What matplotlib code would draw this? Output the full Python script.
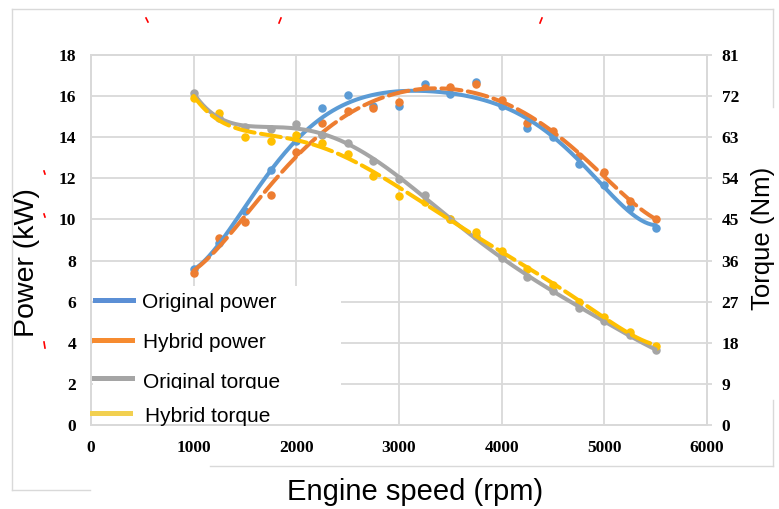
import numpy as np
import matplotlib
matplotlib.use("Agg")
import matplotlib.pyplot as plt
from matplotlib.lines import Line2D
from matplotlib.patches import Rectangle
from matplotlib.transforms import Bbox

# data -----------------------------------------------------------------------
rpm = [1000, 1250, 1500, 1750, 2000, 2250, 2500, 2750, 3000, 3250,
       3500, 3750, 4000, 4250, 4500, 4750, 5000, 5250, 5500]
orig_power = [7.6, 8.85, 10.4, 12.4, 13.8, 15.4, 16.05, 15.5, 15.5, 16.6,
              16.1, 16.7, 15.5, 14.45, 14.0, 12.7, 11.7, 10.55, 9.6]
hyb_power = [7.4, 9.1, 9.9, 11.2, 13.3, 14.7, 15.3, 15.4, 15.7, 16.4,
             16.45, 16.6, 15.8, 14.7, 14.3, 13.1, 12.3, 10.9, 10.0]
orig_torque = [72.7, 67.2, 65.3, 64.9, 65.9, 63.5, 61.7, 57.8, 53.8, 50.3,
               45.1, 41.3, 36.6, 32.4, 29.3, 25.7, 22.8, 19.7, 16.4]
hyb_torque = [71.6, 68.3, 63.0, 62.2, 63.4, 61.8, 59.3, 54.5, 50.1, 48.9,
              45.2, 42.3, 38.0, 34.2, 30.6, 27.0, 23.6, 20.4, 17.3]

x_ticks = [0, 1000, 2000, 3000, 4000, 5000, 6000]
power_ticks = [0, 2, 4, 6, 8, 10, 12, 14, 16, 18]
torque_ticks = [0, 9, 18, 27, 36, 45, 54, 63, 72, 81]
labels = ["Original power", "Hybrid power", "Original torque", "Hybrid torque"]

BLUE = "#5B9BD5"
ORANGE = "#ED7D31"
GRAY = "#A5A5A5"
YELLOW = "#FFC000"
GRID = "#D9D9D9"
W, H = 779, 509


def trend(x, y, deg):
    # polynomial trendline like the spreadsheet one
    p = np.polynomial.Polynomial.fit(x, y, deg)
    xs = np.linspace(min(x), max(x), 300)
    return xs, p(xs)


def px(x0, y0, x1, y1, **kw):
    # a line given in pixel coordinates of the picture
    fig.add_artist(Line2D([x0 / W, x1 / W], [1 - y0 / H, 1 - y1 / H],
                          transform=fig.transFigure, **kw))


fig = plt.figure(figsize=(7.79, 5.09), dpi=100)
ax = fig.add_axes([91 / W, 1 - 425 / H, 616 / W, 370 / H])
ax2 = ax.twinx()

ax.set_xlim(0, 6000)
ax.set_ylim(0, 18)
ax2.set_ylim(0, 81)
ax.set_xticks(x_ticks)
ax.set_yticks(power_ticks)
ax2.set_yticks(torque_ticks)
ax.grid(True, color=GRID, linewidth=1.3)
ax.set_axisbelow(True)

for lab in ax.get_xticklabels() + ax.get_yticklabels() + ax2.get_yticklabels():
    lab.set_fontfamily("Liberation Serif")
    lab.set_fontweight("bold")
    lab.set_fontsize(12.5)
ax.tick_params(axis="x", length=0, pad=11)
ax.tick_params(axis="y", length=0, pad=10.5)
ax2.tick_params(axis="y", length=3.6, width=1.3, color=GRID, pad=7)
for a in (ax, ax2):
    for s in a.spines.values():
        s.set_color(GRID)
        s.set_linewidth(1.3)

lw = 2.9
dash = (5.0, 1.6)

# power series
ax.scatter(rpm, orig_power, s=26, color=BLUE, zorder=3)
ax.scatter(rpm, hyb_power, s=26, color=ORANGE, zorder=3)
xs, ys = trend(rpm, orig_power, 6)
ax.plot(xs, ys, color=BLUE, lw=lw, solid_capstyle="round", zorder=4)
xs, ys = trend(rpm, hyb_power, 6)
ax.plot(xs, ys, color=ORANGE, lw=lw, dashes=dash, dash_capstyle="round", zorder=4)

# torque series
ax2.scatter(rpm, orig_torque, s=26, color=GRAY, zorder=3)
ax2.scatter(rpm, hyb_torque, s=26, color=YELLOW, zorder=3)
xs, ys = trend(rpm, orig_torque, 6)
ax2.plot(xs, ys, color=GRAY, lw=lw, solid_capstyle="round", zorder=4)
xs, ys = trend(rpm, hyb_torque, 6)
ax2.plot(xs, ys, color=YELLOW, lw=lw, dashes=dash, dash_capstyle="round", zorder=4)

# white block behind the legend, hides the grid there
ax.add_patch(Rectangle((0.003, 0.004), (340 - 92) / 616, (424 - 286) / 370,
                       transform=ax.transAxes, facecolor="white",
                       edgecolor="none", zorder=1.8))

# legend, placed by hand like the pasted one
leg_colors = ["#5B8FD5", "#F68B30", "#A5A5A5", "#F2D050"]
leg_handles = [(95, 133, 300), (94, 132, 340), (94, 132, 378), (92, 130, 413)]
leg_text = [(142, 302), (143, 342), (143, 382), (145, 416)]
for c, (x0, x1, y), (tx, ty), lab in zip(leg_colors, leg_handles, leg_text, labels):
    px(x0, y, x1, y, color=c, lw=3.6)
    t = fig.text(tx / W, 1 - ty / H, lab, ha="left", va="center",
                 fontsize=15, family="Liberation Sans")
    if lab == "Original torque":
        # bottom of this entry is cut off in the reference
        t.set_clip_box(Bbox([[0, H - 389], [W, H]]))
        t.set_clip_on(True)

# axis titles
fig.text(27 / W, 1 - 263 / H, "Power (kW)", rotation=90, ha="center",
         va="center", fontsize=20.5, family="Liberation Sans")
fig.text(763 / W, 1 - 238 / H, "Torque (Nm)", rotation=90, ha="center",
         va="center", fontsize=18.5, family="Liberation Sans")
fig.text(415 / W, 1 - 492 / H, "Engine speed (rpm)", ha="center",
         va="center", fontsize=21, family="Liberation Sans")

# outer frame of the pasted picture
px(12, 9, 773, 9, color=GRID, lw=1)
px(12, 9, 12, 490, color=GRID, lw=1)
px(12, 490, 90, 490, color=GRID, lw=1)
px(210, 466, 773, 466, color=GRID, lw=1)
px(773, 9, 773, 107, color=GRID, lw=1)
px(773, 400, 773, 466, color=GRID, lw=1)

# small red marks
for (x0, y0, x1, y1) in [(146, 18, 148, 22), (281, 18, 279, 23), (542, 18, 540, 23),
                         (44, 171, 45, 174), (44, 214, 45, 217), (44, 342, 45, 348)]:
    px(x0, y0, x1, y1, color="red", lw=1.2)

fig.savefig("out.png", dpi=100)
